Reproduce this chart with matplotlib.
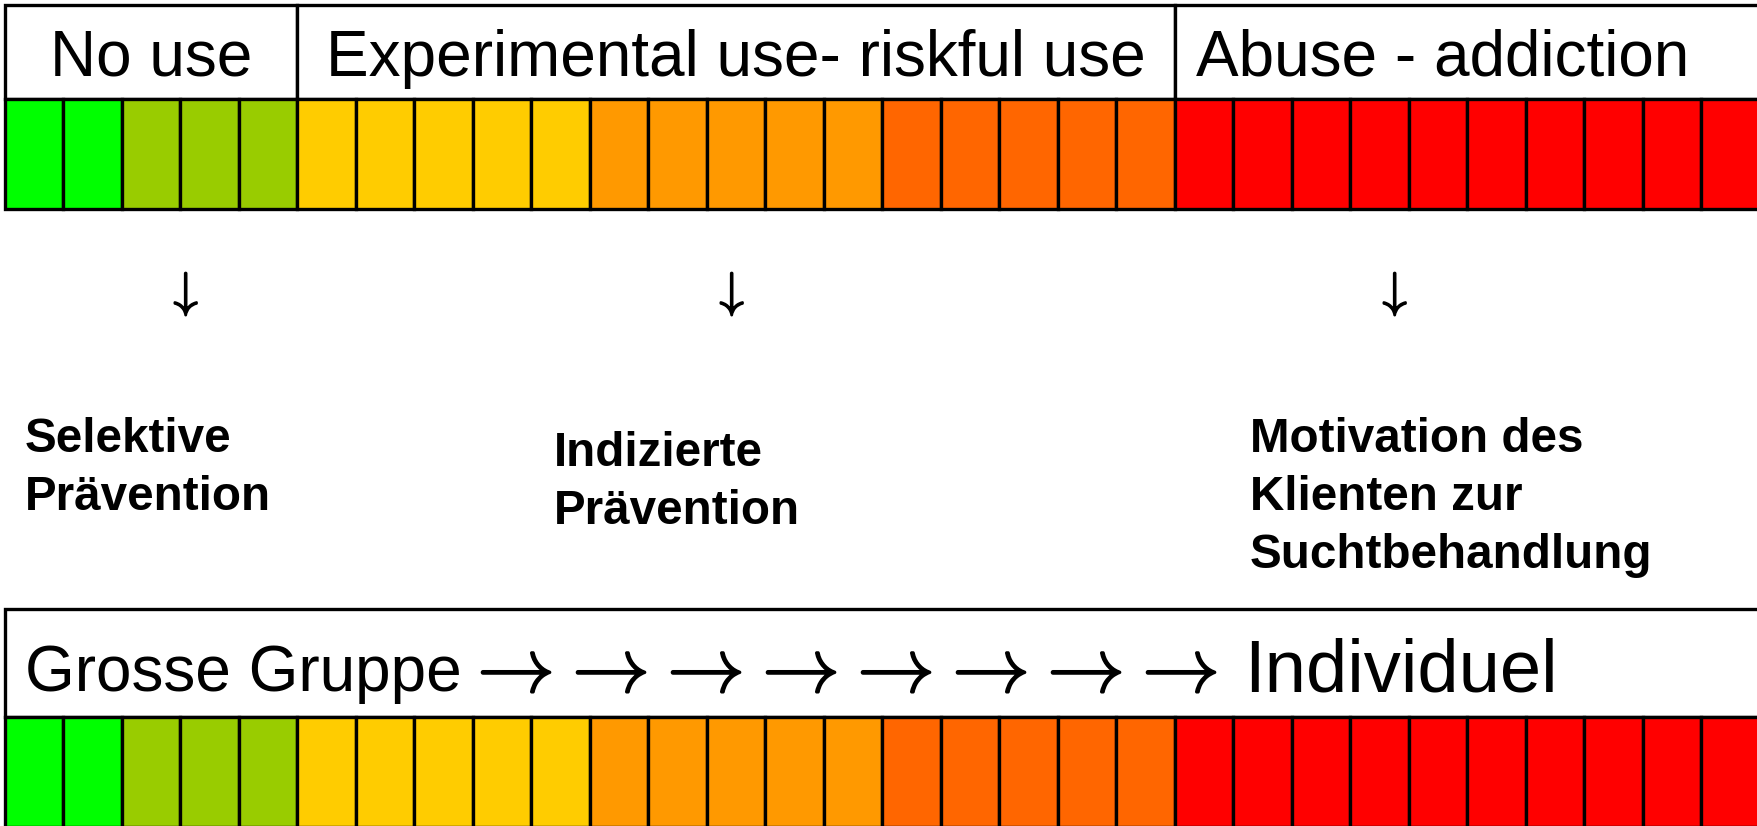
#Prevention scale: coloured bands with stage labels and target groups
import matplotlib.pyplot as plt
import matplotlib.patheffects as pe

plt.rcParams['font.family'] = ['Liberation Sans', 'DejaVu Sans']

#colour bands of the scale (colour, number of cells)
band_colors = ['#00FF00', '#99CC00', '#FFCC00', '#FF9900', '#FF6600', '#FF0000']
band_counts = [2, 3, 5, 5, 5, 10]

#stages in the header row, with the cell where each starts and ends
stage_labels = ['No use', 'Experimental use- riskful use', 'Abuse - addiction']
stage_edges = [0, 5, 20, 30]

#prevention type under each stage
prevention_labels = [['Selektive', 'Prävention'],
                     ['Indizierte', 'Prävention'],
                     ['Motivation des', 'Klienten zur', 'Suchtbehandlung']]

group_from = 'Grosse Gruppe'
group_to = 'Individuel'
n_arrows = 8

cell_colors = []
for c, n in zip(band_colors, band_counts):
    cell_colors += [c] * n
n_cells = len(cell_colors)

#pixel layout of the picture
W, H = 1757, 826
cell_px = 58.5
left_px = 4.5

def px(x):
    #pixel x -> cell units
    return (x - left_px) / cell_px

fig = plt.figure(figsize=(W / 100, H / 100), dpi=100)
ax = fig.add_axes([0, 0, 1, 1])
ax.set_xlim(px(0), px(W))
ax.set_ylim(H, 0)
ax.axis('off')

lw = 2.4
thick = [pe.withStroke(linewidth=1.2, foreground='black')]

def scale_row(y_top, y_mid, y_bot, edges):
    #white header row split into sections, then the coloured cells below it
    starts = edges[:-1]
    widths = [b - a for a, b in zip(edges[:-1], edges[1:])]
    ax.bar(starts, y_mid - y_top, width=widths, bottom=y_top, align='edge',
           color='white', edgecolor='black', linewidth=lw)
    ax.bar(range(n_cells), y_bot - y_mid, width=1, bottom=y_mid, align='edge',
           color=cell_colors, edgecolor='black', linewidth=lw)

#top scale with the stages
scale_row(4.5, 98.5, 208.5, stage_edges)
for i, lab in enumerate(stage_labels[:2]):
    ax.text((stage_edges[i] + stage_edges[i + 1]) / 2, 76, lab,
            ha='center', va='baseline', fontsize=46)
ax.text(px(1196), 76, stage_labels[2], ha='left', va='baseline', fontsize=46)

#down arrows
for x in [182, 728, 1391]:
    ax.text(px(x), 294, r'$\downarrow$', ha='center', va='center',
            fontsize=35, math_fontfamily='cm', path_effects=thick)

#prevention types
text_pos = [(24.7, 452), (553.6, 466), (1249.5, 452)]
for (x, y), lines in zip(text_pos, prevention_labels):
    for k, line in enumerate(lines):
        ax.text(px(x), y + k * 58, line, ha='left', va='baseline',
                fontsize=34.3, fontweight='bold')

#bottom scale: group size
scale_row(608.5, 717, 827, [0, n_cells])
ax.text(px(24.7), 691, group_from, ha='left', va='baseline', fontsize=46)
for i in range(n_arrows):
    ax.text(px(508 + i * 95), 672, r'$\rightarrow$', ha='center', va='center',
            fontsize=56, math_fontfamily='cm', path_effects=thick)
ax.text(px(1244), 691, group_to, ha='left', va='baseline', fontsize=53.5)

plt.savefig('out.png', dpi=100)
